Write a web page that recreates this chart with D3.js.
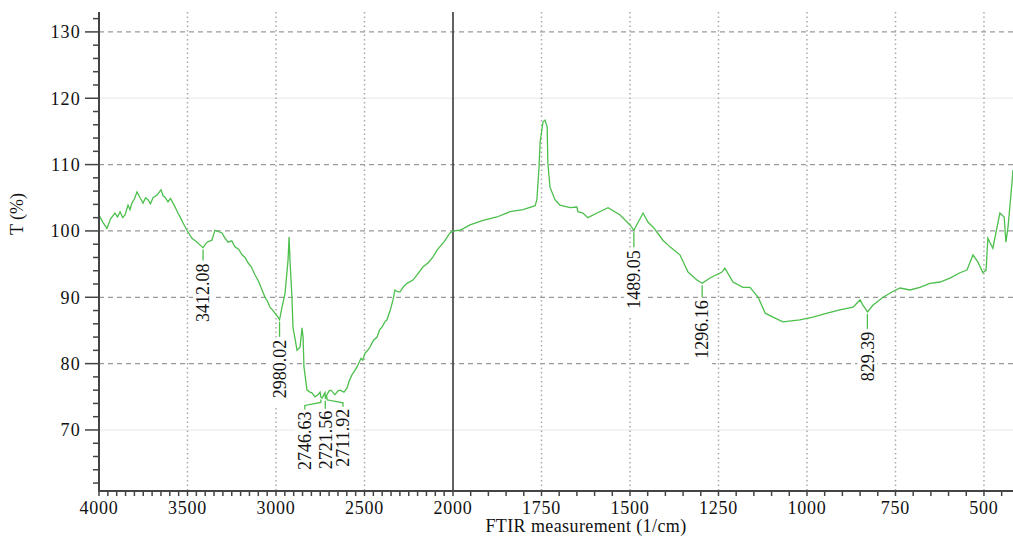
<!DOCTYPE html>
<meta charset="utf-8">
<script src="https://d3js.org/d3.v7.min.js"></script>
<style>
  body { margin: 0; background: #fff; }
  text { font-family: "Liberation Serif", "Times New Roman", serif; fill: #111; }
</style>
<svg id="my_dataviz" width="1013" height="537"></svg>

<script>

// FTIR spectrum
var wn = [4000,3978,3955,3935,3910,3895,3881,3866,3853,3836,3825,3814,3800,3785,3768,3751,3737,3723,3709,3695,3672,3650,3638,3627,3610,3596,3582,3568,3554,3540,3525,3503,
  3475,3446,3418,3412,3390,3362,3345,3316,3305,3290,3271,3250,3232,3210,3192,3175,3158,3140,3119,3100,3079,3062,3048,3034,3020,3006,2989,2980,2966,2949,
  2932,2926,2921,2910,2904,2881,2864,2853,2847,2842,2825,2808,2797,2780,2763,2751,2746,2740,2723,2721,2712,2700,2689,
  2667,2650,2638,2616,2599,2585,2571,2556,2542,2520,2510,2497,2485,2469,2450,2429,2415,2401,2385,2373,2355,2339,2328,2311,2299,2280,2260,2226,2200,2169,2140,2113,2090,2050,2017,2000,
  1980,1952,1915,1876,1839,1802,1768,1763,1757,1754,1746,1740,1734,1732,1726,1712,1698,1669,1650,1647,1633,1619,
  1593,1562,1528,1500,1489,1477,1463,1449,1435,1407,1387,1359,1336,1311,1296,1274,1240,1232,1209,1181,1161,1138,
  1118,1096,1068,1020,983,943,907,870,850,842,829,814,785,760,737,709,681,653,624,596,568,548,531,517,503,494,
  489,475,455,443,438,432,421,418];
var tr = [102.4,101.3,100.4,101.8,102.7,102.1,102.9,102.0,102.4,103.9,103.2,104.2,104.8,105.9,105.0,104.2,105.0,104.7,104.1,105.0,105.4,106.2,105.3,105.1,104.4,104.9,104.2,103.5,102.7,102.0,101.2,100.1,
  98.9,98.3,97.6,97.5,98.3,98.6,100.1,99.8,99.7,99.0,98.3,98.5,97.6,97.2,96.4,96.0,95.2,94.6,93.4,92.5,91.1,90.0,89.4,88.5,88.1,87.6,87.0,86.6,88.5,90.6,
  95.6,99.1,95.6,90.0,85.5,82.0,82.5,85.4,84.0,79.5,76.0,75.7,75.6,75.0,75.3,75.7,74.9,74.8,75.6,74.7,75.3,75.9,76.0,
  75.3,75.9,76.0,75.7,76.3,77.5,78.3,78.9,79.5,80.8,80.5,81.6,81.9,82.5,83.5,84.0,85.1,85.5,86.3,86.6,88.0,89.6,91.1,90.8,90.8,91.6,92.1,92.6,93.5,94.6,95.2,96.1,97.1,98.4,99.7,100.0,
  100.1,100.9,101.6,102.1,102.9,103.2,103.8,104.7,109.6,113.3,116.4,116.7,115.7,110.2,106.6,104.7,103.9,103.5,103.6,102.9,102.7,102.0,
  102.7,103.5,102.4,100.9,100.1,101.3,102.7,101.3,100.6,98.6,97.6,96.4,93.8,92.6,92.1,92.9,93.8,94.4,92.3,91.5,91.5,90.0,
  87.6,87.0,86.3,86.6,87.0,87.6,88.1,88.5,89.6,88.8,87.8,88.8,90.0,90.8,91.4,91.1,91.5,92.1,92.3,92.9,93.7,94.1,96.4,95.3,93.7,94.1,
  98.9,97.4,102.7,102.1,98.3,100.6,107.2,109.2];

// labelled peaks
var peakWn = [3412.08, 2980.02, 2746.63, 2721.56, 2711.92, 1489.05, 1296.16, 829.39];
var peakT  = [97.5, 86.6, 74.9, 74.7, 75.3, 100.1, 92.1, 87.8];

var yTicks = [70, 80, 90, 100, 110, 120, 130];
var xTicks = [4000, 3500, 3000, 2500, 2000, 1750, 1500, 1250, 1000, 750, 500];
var hGrid = [130, 110, 100, 90, 80];
var hGridFaint = [120, 70];
var vGrid = [3500, 3000, 2500, 1750, 1500, 1250, 1000, 750, 500];

var svg = d3.select("svg");

// the x axis changes scale at 2000 (right half is stretched 2x)
var x = d3.scaleLinear().domain([4000, 2000, 418]).range([99, 453, 1013]);
var y = d3.scaleLinear().domain([60.8, 133]).range([491, 12]);

var green = "#4cbf4c";

// grid
svg.append("g").selectAll("line")
  .data(hGridFaint).enter().append("line")
    .attr("x1", 99).attr("x2", 1013)
    .attr("y1", function(d){ return y(d) }).attr("y2", function(d){ return y(d) })
    .style("stroke", "#efefef").style("stroke-width", 1.5)
svg.append("g").selectAll("line")
  .data(hGrid).enter().append("line")
    .attr("x1", 99).attr("x2", 1013)
    .attr("y1", function(d){ return y(d) }).attr("y2", function(d){ return y(d) })
    .style("stroke", "#9a9a9a").style("stroke-width", 1.2)
    .style("stroke-dasharray", "5,4")
svg.append("g").selectAll("line")
  .data(vGrid).enter().append("line")
    .attr("x1", function(d){ return x(d) }).attr("x2", function(d){ return x(d) })
    .attr("y1", 12).attr("y2", 491)
    .style("stroke", "#aaaaaa").style("stroke-width", 1.5)
    .style("stroke-dasharray", "1.5,3")

// white boxes behind peak labels (they cut the grid in the original)
var spread = [0, 0, -16, 0, 16, 0, 0, 0];
var dropY = [16, 20, 14, 12, 14, 20, 17, 20];
var labels = svg.append("g");
peakWn.forEach(function(w, i){
  var px = x(w) + spread[i], py = y(peakT[i]);
  var top = py + dropY[i];
  labels.append("rect")
    .attr("x", px - 10).attr("y", top - 2)
    .attr("width", 20).attr("height", 68)
    .style("fill", "#fff")
});

// break line at 2000
svg.append("line")
  .attr("x1", x(2000)).attr("x2", x(2000)).attr("y1", 12).attr("y2", 491)
  .style("stroke", "#3a3a3a").style("stroke-width", 1.6)

// spectrum
var line = d3.line()
  .x(function(d, i){ return x(wn[i]) })
  .y(function(d, i){ return y(tr[i]) })
svg.append("path")
  .attr("d", line(wn))
  .style("fill", "none")
  .style("stroke", green)
  .style("stroke-width", 1.3)

// peak markers + labels
peakWn.forEach(function(w, i){
  var cx = x(w), cy = y(peakT[i]);
  var px = cx + spread[i];
  var top = cy + dropY[i];
  var pts = spread[i] === 0 && i !== 3
    ? [[cx, cy + 2], [px, top - 3]]
    : [[cx, cy + 2], [cx, cy + 5], [px, top - 6], [px, top - 2]];
  labels.append("path")
    .attr("d", d3.line()(pts))
    .style("fill", "none").style("stroke", green).style("stroke-width", 1.3)
  labels.append("text")
    .attr("transform", "translate(" + px + "," + top + ") rotate(-90)")
    .attr("text-anchor", "end")
    .attr("dy", "0.35em")
    .style("font-size", "18px")
    .text(d3.format(".2f")(w))
});

// y axis
svg.append("line").attr("x1", 99).attr("x2", 99).attr("y1", 12).attr("y2", 492)
  .style("stroke", "#444").style("stroke-width", 2)
var yMinor = d3.range(62, 133, 2);
svg.append("g").selectAll("line")
  .data(yMinor).enter().append("line")
    .attr("x1", function(d){ return d % 10 === 0 ? 85 : 93 }).attr("x2", 99)
    .attr("y1", function(d){ return y(d) }).attr("y2", function(d){ return y(d) })
    .style("stroke", "#444").style("stroke-width", 1.5)
svg.append("g").selectAll("text")
  .data(yTicks).enter().append("text")
    .attr("x", 81).attr("y", function(d){ return y(d) })
    .attr("dy", "0.35em")
    .attr("text-anchor", "end")
    .style("font-size", "18px").style("letter-spacing", "1.2px")
    .text(function(d){ return d })

// x axis
svg.append("line").attr("x1", 98).attr("x2", 1013).attr("y1", 491).attr("y2", 491)
  .style("stroke", "#444").style("stroke-width", 2)
var xMinor = d3.range(4000, 417, -50);
svg.append("g").selectAll("line")
  .data(xMinor).enter().append("line")
    .attr("x1", function(d){ return x(d) }).attr("x2", function(d){ return x(d) })
    .attr("y1", 491).attr("y2", 496)
    .style("stroke", "#444").style("stroke-width", 1.5)
svg.append("g").selectAll("text")
  .data(xTicks).enter().append("text")
    .attr("x", function(d){ return x(d) }).attr("y", 514)
    .attr("text-anchor", "middle")
    .style("font-size", "18px").style("letter-spacing", "0.8px")
    .text(function(d){ return d })

// axis titles
svg.append("text")
  .attr("x", 586).attr("y", 532)
  .attr("text-anchor", "middle")
  .style("font-size", "18px").style("letter-spacing", "0.4px")
  .text("FTIR measurement (1/cm)")
svg.append("text")
  .attr("transform", "translate(23,214) rotate(-90)")
  .attr("text-anchor", "middle")
  .style("font-size", "18px")
  .text("T (%)")

</script>
